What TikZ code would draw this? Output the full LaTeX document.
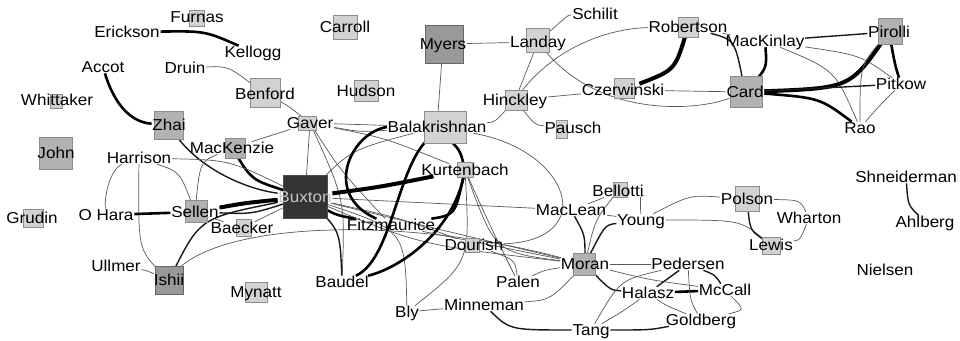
\documentclass[tikz,border=0pt]{standalone}
\usepackage{fontspec}
\setmainfont{Liberation Sans}[FakeStretch=1.08]
\usetikzlibrary{backgrounds}
\pgfdeclarelayer{bottom}
\pgfsetlayers{bottom,background,main}
\begin{document}
\begin{tikzpicture}[x=1pt,y=-1pt,
  lab/.style={font=\fontsize{15.8}{17}\selectfont, inner sep=0.6pt, text height=11pt, text depth=0pt},
  bxA/.style={draw=gray!90, fill=gray!35, line width=0.8pt, inner sep=0pt},
  bxB/.style={draw=gray!90, fill=gray!60, line width=0.8pt, inner sep=0pt},
  bxC/.style={draw=gray!120, fill=gray!80, line width=0.8pt, inner sep=0pt},
  bxD/.style={draw=black!70, fill=black!80, line width=0.8pt, inner sep=0pt},
  e1/.style={draw=black!65, line width=0.7pt},
  e2/.style={draw=black!90, line width=1.4pt},
  e3/.style={draw=black, line width=2.6pt},
  e4/.style={draw=black, line width=4pt}]
\useasboundingbox (0,0) rectangle (960,340);
\begin{pgfonlayer}{bottom}
\fill[white] (0,0) rectangle (960,340);
\end{pgfonlayer}
% boxes
\node[bxA, minimum width=15, minimum height=16] (bFurnas) at (197,18) {};
\node[bxA, minimum width=12, minimum height=14] (bWhittaker) at (56,101) {};
\node[bxA, minimum width=30, minimum height=29] (bBenford) at (265,93) {};
\node[bxB, minimum width=29, minimum height=28] (bZhai) at (169,125) {};
\node[bxB, minimum width=33, minimum height=32] (bJohn) at (56,153) {};
\node[bxB, minimum width=20, minimum height=20] (bMacKenzie) at (235,148) {};
\node[bxA, minimum width=18, minimum height=14] (bGaver) at (307,123) {};
\node[bxA, minimum width=24, minimum height=24] (bCarroll) at (345,27) {};
\node[bxA, minimum width=24, minimum height=21] (bHudson) at (366,91) {};
\node[bxC, minimum width=38, minimum height=38] (bMyers) at (444,44) {};
\node[bxA, minimum width=23, minimum height=24] (bLanday) at (538,40) {};
\node[bxA, minimum width=22, minimum height=20] (bHinckley) at (516,100) {};
\node[bxA, minimum width=11, minimum height=18] (bPausch) at (562,129) {};
\node[bxA, minimum width=20, minimum height=20] (bCzerwinski) at (624,88) {};
\node[bxA, minimum width=42, minimum height=32] (bBalakrishnan) at (445,127) {};
\node[bxA, minimum width=16, minimum height=15] (bKurtenbach) at (465,170) {};
\node[bxA, minimum width=20, minimum height=20] (bRobertson) at (688,27) {};
\node[bxB, minimum width=24, minimum height=26] (bPirolli) at (890,31) {};
\node[bxB, minimum width=32, minimum height=31] (bCard) at (746,92) {};
\node[bxA, minimum width=24, minimum height=25] (bPolson) at (747,199) {};
\node[bxA, minimum width=18, minimum height=17] (bLewis) at (771,246) {};
\node[bxA, minimum width=14, minimum height=15] (bBellotti) at (620,190) {};
\node[bxB, minimum width=22, minimum height=22] (bMoran) at (584,264) {};
\node[bxD, minimum width=44, minimum height=43] (bBuxton) at (305,197) {};
\node[bxB, minimum width=22, minimum height=22] (bSellen) at (196,211) {};
\node[bxA, minimum width=15, minimum height=17] (bBaecker) at (244,228) {};
\node[bxA, minimum width=20, minimum height=18] (bGrudin) at (33,218) {};
\node[bxC, minimum width=28, minimum height=28] (bIshii) at (169,280) {};
\node[bxA, minimum width=22, minimum height=20] (bMynatt) at (256,292) {};
\node[bxA, minimum width=14, minimum height=14] (bDourish) at (472,245) {};
% labels
\node[lab] (Furnas) at (197,17) {Furnas};
\node[lab] (Erickson) at (127,32) {Erickson};
\node[lab] (Kellogg) at (253,52) {Kellogg};
\node[lab] (Accot) at (103,67) {Accot};
\node[lab] (Druin) at (185,68) {Druin};
\node[lab] (Benford) at (265,94) {Benford};
\node[lab] (Whittaker) at (57,100) {Whittaker};
\node[lab] (Zhai) at (169,125) {Zhai};
\node[lab] (Gaver) at (310,123) {Gaver};
\node[lab] (John) at (56,153) {John};
\node[lab] (MacKenzie) at (232,148) {MacKenzie};
\node[lab] (Harrison) at (139,158) {Harrison};
\node[lab] (Carroll) at (345,27) {Carroll};
\node[lab] (Hudson) at (366,91) {Hudson};
\node[lab] (Myers) at (443,44) {Myers};
\node[lab] (Landay) at (538,42) {Landay};
\node[lab] (Schilit) at (595,14) {Schilit};
\node[lab] (Hinckley) at (515,100) {Hinckley};
\node[lab] (Pausch) at (573,128) {Pausch};
\node[lab] (Czerwinski) at (623,90) {Czerwinski};
\node[lab] (Balakrishnan) at (437,127) {Balakrishnan};
\node[lab] (Kurtenbach) at (465,170) {Kurtenbach};
\node[lab] (Robertson) at (688,27) {Robertson};
\node[lab] (MacKinlay) at (765,41) {MacKinlay};
\node[lab] (Pirolli) at (889,32) {Pirolli};
\node[lab] (Card) at (745,92) {Card};
\node[lab] (Pitkow) at (901,84) {Pitkow};
\node[lab] (Rao) at (860,128) {Rao};
\node[lab] (Shneiderman) at (906,177) {Shneiderman};
\node[lab] (Ahlberg) at (925,222) {Ahlberg};
\node[lab] (Nielsen) at (885,270) {Nielsen};
\node[lab] (Polson) at (747,199) {Polson};
\node[lab] (Wharton) at (809,218) {Wharton};
\node[lab] (Lewis) at (771,245) {Lewis};
\node[lab] (Young) at (641,220) {Young};
\node[lab] (Bellotti) at (618,191) {Bellotti};
\node[lab] (MacLean) at (571,210) {MacLean};
\node[lab] (Moran) at (585,264) {Moran};
\node[lab] (Pedersen) at (688,264) {Pedersen};
\node[lab] (Halasz) at (648,293) {Halasz};
\node[lab] (McCall) at (725,290) {McCall};
\node[lab] (Goldberg) at (701,320) {Goldberg};
\node[lab] (Tang) at (591,330) {Tang};
\node[lab] (Minneman) at (484,305) {Minneman};
\node[lab] (Bly) at (407,312) {Bly};
\node[lab] (Palen) at (518,282) {Palen};
\node[lab] (Dourish) at (474,245) {Dourish};
\node[lab] (Fitzmaurice) at (391,225) {Fitzmaurice};
\node[lab] (Baudel) at (342,282) {Baudel};
\node[lab, text=gray!45] (Buxton) at (305,197) {Buxton};
\node[lab] (Mynatt) at (256,292) {Mynatt};
\node[lab] (Baecker) at (242,228) {Baecker};
\node[lab] (Sellen) at (195,212) {Sellen};
\node[lab] (OHara) at (106,215) {O Hara};
\node[lab] (Grudin) at (32,218) {Grudin};
\node[lab] (Ullmer) at (116,266) {Ullmer};
\node[lab] (Ishii) at (169,280) {Ishii};
\begin{pgfonlayer}{background}
% top left
\draw[e3] (Erickson) .. controls (205,31) .. (Kellogg);
\draw[e3] (Accot) .. controls (113,100) and (128,122) .. (Zhai);
\draw[e1] (Druin) .. controls (228,66) .. (Benford);
\draw[e1] (Benford) .. controls (287,105) .. (Gaver);
\draw[e2] (Zhai) .. controls (195,165) and (240,188) .. (Buxton);
\draw[e3] (MacKenzie) .. controls (252,180) .. (Buxton);
\draw[e1] (MacKenzie) .. controls (200,162) .. (Sellen);
\draw[e1] (Harrison) .. controls (230,160) .. (Buxton);
\draw[e1] (Harrison) .. controls (112,168) and (104,192) .. (OHara);
\draw[e1] (Harrison) .. controls (138,250) .. (Ishii);
\draw[e1] (Harrison) .. controls (180,172) .. (Sellen);
\draw[e3] (OHara) -- (Sellen);
\draw[e4] (Sellen) .. controls (245,203) .. (Buxton);
\draw[e2] (Sellen) .. controls (252,214) .. (Buxton);
\draw[e1] (Sellen) -- (Baecker);
\draw[e1] (Baecker) -- (Buxton);
\draw[e1] (Ullmer) .. controls (145,270) .. (Ishii);
\draw[e2] (Ishii) .. controls (200,218) .. (Buxton);
\draw[e1] (Ishii) .. controls (215,222) and (400,215) .. (Moran);
% Gaver
\draw[e1] (Gaver) -- (Balakrishnan);
\draw[e1] (Gaver) .. controls (360,132) .. (Balakrishnan);
\draw[e1] (Gaver) -- (Buxton);
\draw[e1] (Gaver) .. controls (385,138) .. (Kurtenbach);
\draw[e1] (Gaver) .. controls (340,170) .. (Fitzmaurice);
\draw[e1] (Gaver) -- (MacKenzie);
\draw[e1] (Gaver) .. controls (345,200) .. (Baudel);
% Buxton
\draw[e1] (Buxton) .. controls (350,150) .. (Balakrishnan);
\draw[e4] (Buxton) .. controls (380,187) .. (Kurtenbach);
\draw[e3] (Buxton) .. controls (335,215) .. (Fitzmaurice);
\draw[e2] (Buxton) .. controls (340,230) .. (Baudel);
\draw[e1] (Buxton) -- (MacLean);
\draw[e1] (Buxton) .. controls (450,232) .. (Moran);
\draw[e1] (Buxton) .. controls (420,245) .. (Moran);
\draw[e1] (Buxton) .. controls (400,218) .. (Dourish);
\draw[e1] (Buxton) .. controls (405,230) .. (Bly);
% Balakrishnan / Kurtenbach
\draw[e3] (Balakrishnan) .. controls (460,150) .. (Kurtenbach);
\draw[e3] (Balakrishnan.west) .. controls (350,133) and (322,195) .. (Fitzmaurice);
\draw[e3] (Balakrishnan.south) .. controls (398,150) and (395,258) .. (Baudel);
\draw[e3] (Kurtenbach) .. controls (452,232) and (400,268) .. (Baudel);
\draw[e3] (Kurtenbach) .. controls (455,215) .. (Fitzmaurice);
\draw[e1] (Kurtenbach) .. controls (495,252) .. (Moran);
\draw[e1] (Kurtenbach) .. controls (492,230) .. (Palen);
\draw[e1] (Kurtenbach) .. controls (470,262) .. (Bly);
\draw[e1] (Balakrishnan) .. controls (570,150) and (600,240) .. (Dourish);
\draw[e1] (Balakrishnan) .. controls (495,122) .. (Hinckley);
\draw[e1] (Myers) -- (Balakrishnan);
% top right
\draw[e1] (Myers) -- (Landay);
\draw[e1] (Landay) .. controls (568,15) .. (Schilit);
\draw[e1] (Landay) -- (Hinckley);
\draw[e1] (Landay) .. controls (600,120) and (700,110) .. (Card);
\draw[e1] (Hinckley) .. controls (560,40) and (620,28) .. (Robertson);
\draw[e1] (Hinckley) -- (Czerwinski);
\draw[e1] (Hinckley) .. controls (535,125) .. (Pausch);
\draw[e4] (Robertson) .. controls (675,70) .. (Czerwinski);
\draw[e2] (Robertson) .. controls (735,40) .. (Card);
\draw[e1] (Robertson) -- (MacKinlay);
\draw[e3] (MacKinlay) .. controls (767,68) .. (Card);
\draw[e2] (MacKinlay) -- (Pirolli);
\draw[e1] (MacKinlay) .. controls (860,55) .. (Pitkow);
\draw[e1] (MacKinlay) .. controls (835,70) .. (Rao);
\draw[e1] (Czerwinski) -- (Card);
\draw[e4] (Card) .. controls (850,88) .. (Pirolli);
\draw[e2] (Card) -- (Pitkow);
\draw[e3] (Card) .. controls (820,98) .. (Rao);
\draw[e3] (Pirolli) .. controls (895,65) .. (Pitkow);
\draw[e1] (Pirolli) .. controls (860,65) .. (Rao);
\draw[e1] (Pitkow) .. controls (880,105) .. (Rao);
\draw[e2] (Shneiderman) .. controls (908,205) .. (Ahlberg);
% bottom right
\draw[e1] (Young) .. controls (690,195) .. (Polson);
\draw[e1] (Young) .. controls (740,220) .. (Lewis);
\draw[e2] (Polson) .. controls (750,230) .. (Lewis);
\draw[e1] (Polson) .. controls (800,200) .. (Wharton);
\draw[e1] (Wharton) .. controls (800,240) .. (Lewis);
\draw[e1] (Young) -- (MacLean);
\draw[e1] (Young) .. controls (640,195) .. (Bellotti);
\draw[e2] (Young) .. controls (605,225) .. (Moran);
\draw[e1] (Bellotti) .. controls (598,200) .. (MacLean);
\draw[e1] (Bellotti) .. controls (595,220) .. (Moran);
\draw[e2] (MacLean) .. controls (585,235) .. (Moran);
\draw[e1] (Moran) -- (Pedersen);
\draw[e2] (Moran) .. controls (610,290) .. (Halasz);
\draw[e1] (Moran) .. controls (650,280) .. (McCall);
\draw[e1] (Moran) .. controls (550,300) .. (Minneman);
\draw[e1] (Moran) .. controls (545,270) .. (Palen);
\draw[e1] (Dourish) .. controls (515,260) .. (Palen);
\draw[e1] (Fitzmaurice) -- (Moran);
\draw[e3] (Halasz) -- (McCall);
\draw[e2] (Pedersen) -- (Halasz);
\draw[e2] (Pedersen) .. controls (715,275) .. (McCall);
\draw[e1] (Pedersen) .. controls (690,300) .. (Goldberg);
\draw[e1] (Pedersen) .. controls (620,280) .. (Tang);
\draw[e1] (McCall) .. controls (745,310) .. (Goldberg);
\draw[e1] (Halasz) .. controls (665,305) .. (Goldberg);
\draw[e1] (Halasz) .. controls (625,310) .. (Tang);
\draw[e2] (Tang) .. controls (650,330) .. (Goldberg);
\draw[e2] (Minneman) .. controls (510,330) .. (Tang);
\draw[e1] (Minneman) -- (Bly);
\end{pgfonlayer}
\end{tikzpicture}
\end{document}
